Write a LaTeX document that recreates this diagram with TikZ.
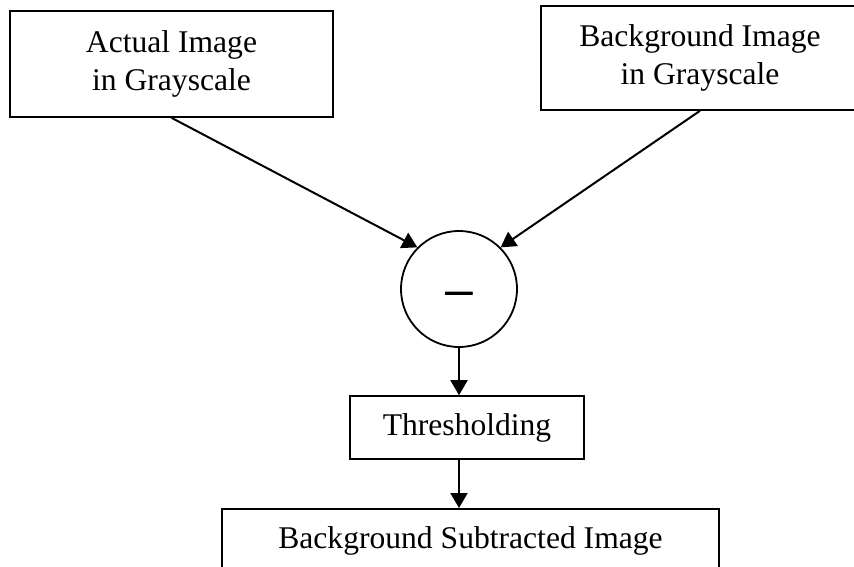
\documentclass[tikz,border=0pt]{standalone}
\usepackage{fontspec}
\setmainfont{Liberation Serif}
\newfontfamily\dashfont{Liberation Sans}
\usetikzlibrary{arrows.meta}

\begin{document}
\begin{tikzpicture}[x=1pt,y=-1pt,
    box/.style={draw,line width=1.6pt,align=center,inner sep=0pt,
      font=\fontsize{31.6}{38}\selectfont},
    sumnode/.style={draw,circle,line width=1.8pt,inner sep=0pt,minimum size=116pt},
    arr/.style={line width=2pt,-{Triangle[length=15pt,width=17pt]}}]
        \useasboundingbox (0,0) rectangle (854,567);

          \node[box,minimum width=323pt,minimum height=106pt] (actual) at (171.5,64) {Actual Image\\in Grayscale};
          \node[box,minimum width=318pt,minimum height=104pt] (backgr) at (700,58) {Background Image\\in Grayscale};

          \node[sumnode] (minus) at (459,289) {};
          \node[anchor=base,inner sep=0pt] (dash) at ([yshift=-17pt]minus.center) {\dashfont\fontsize{50}{50}\selectfont –};

          \node[box,minimum width=234pt,minimum height=63pt] (thresh) at (467,427.5) {Thresholding};
          \node[box,anchor=north,minimum width=497pt,inner ysep=18pt,
            text height=22pt,text depth=7pt] (result) at (470.5,508) {Background Subtracted Image};

          \draw[arr] (actual.south) -- (minus.135);
          \draw[arr] (backgr.south) -- (minus.45);
          \draw[arr] (minus.south) -- (minus.south |- thresh.north);
          \draw[arr] (thresh.south -| minus) -- (result.north -| minus);
        \end{tikzpicture}
\end{document}
